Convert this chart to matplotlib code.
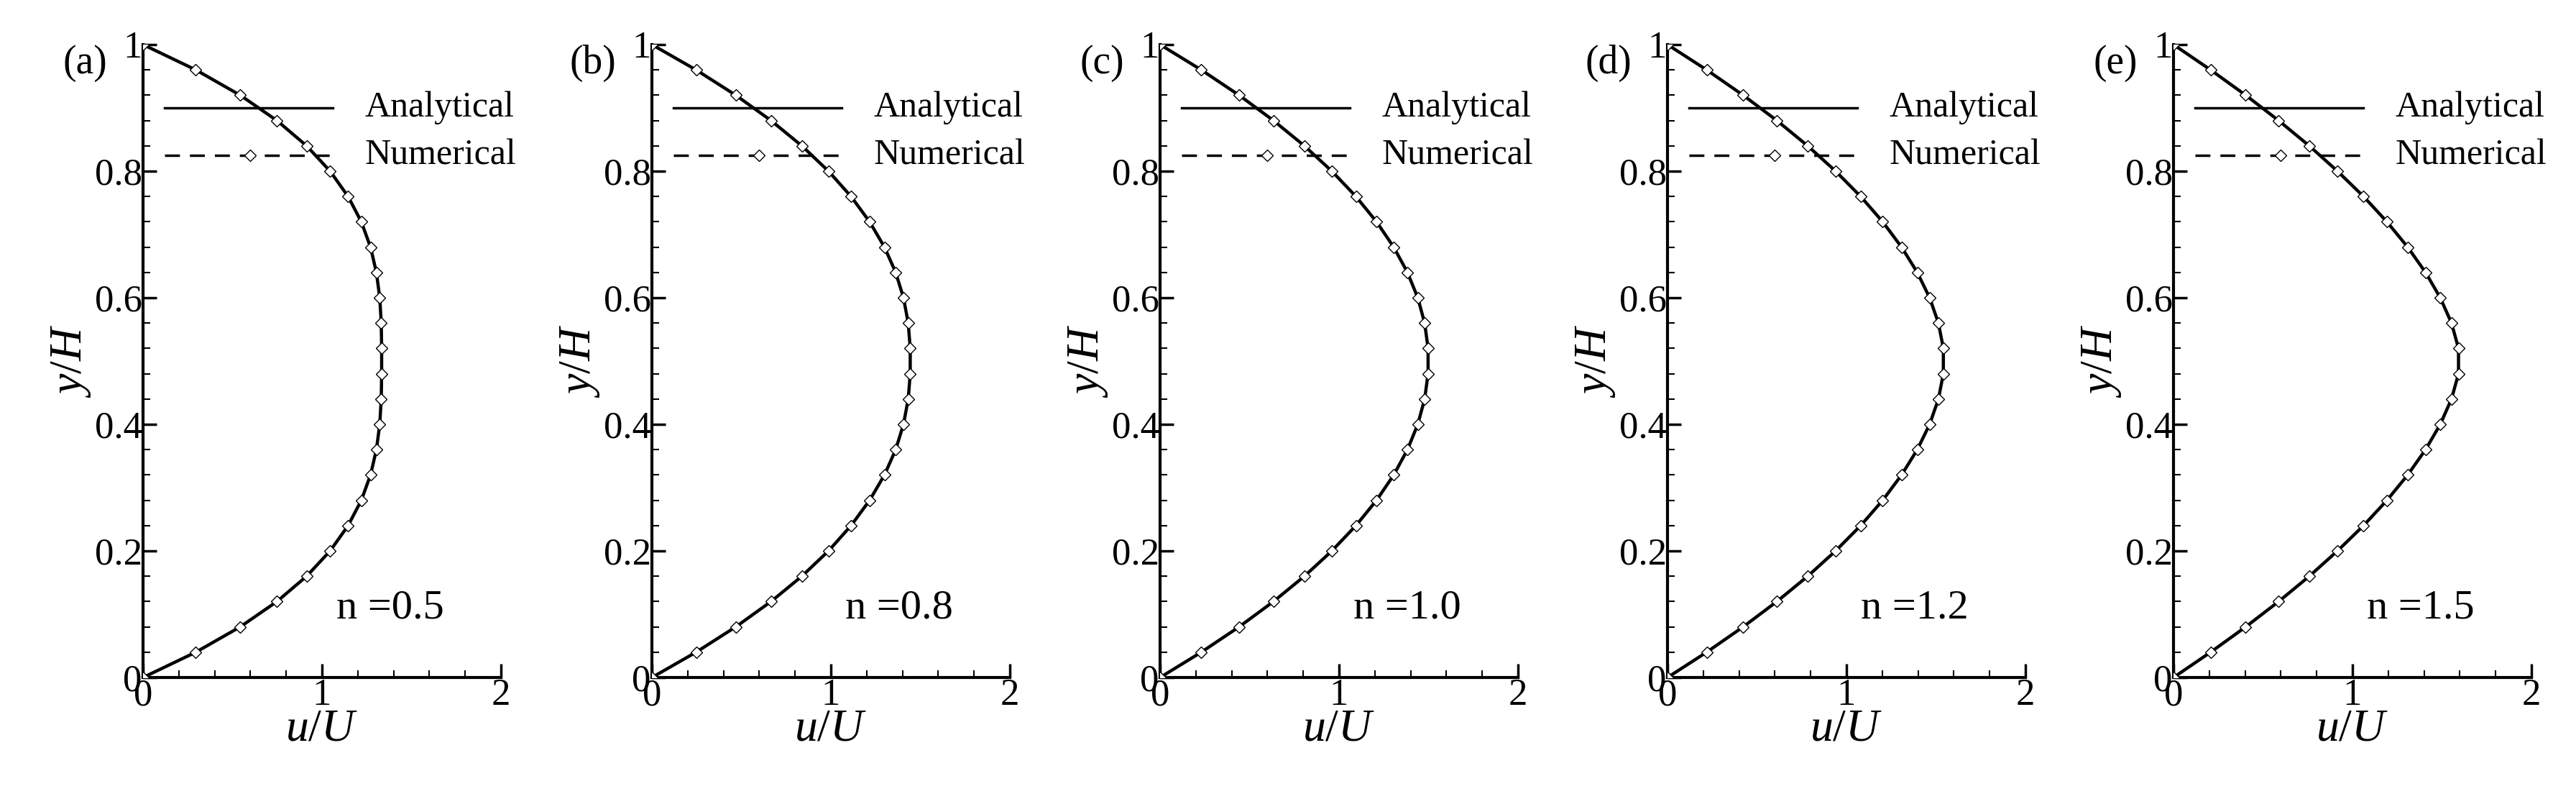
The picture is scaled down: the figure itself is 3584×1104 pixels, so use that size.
import numpy as np
import matplotlib.pyplot as plt
from matplotlib.ticker import MultipleLocator

plt.rcParams['font.family'] = 'serif'
plt.rcParams['font.serif'] = ['Liberation Serif', 'DejaVu Serif']
plt.rcParams['mathtext.fontset'] = 'custom'
plt.rcParams['mathtext.rm'] = 'Liberation Serif'
plt.rcParams['mathtext.it'] = 'Liberation Serif:italic'

# y/H positions of the sampled points (0 .. 1, step 0.04)
y_pts = np.round(np.arange(26) * 0.04, 2)

# half-profiles, wall (y=0) to centre (y=0.48)
half_05 = [0, .2951, .5431, .7480, .9141, 1.0453, 1.1458, 1.2197, 1.2711, 1.3040, 1.3227, 1.3310, 1.3333]
half_08 = [0, .2470, .4687, .6655, .8379, .9868, 1.1128, 1.2166, 1.2994, 1.3621, 1.4057, 1.4322, 1.4434]
half_10 = [0, .2304, .4416, .6336, .8064, .9600, 1.0944, 1.2096, 1.3056, 1.3824, 1.4400, 1.4784, 1.4976]
half_12 = [0, .2190, .4227, .6111, .7834, .9393, 1.0795, 1.2024, 1.3079, 1.3957, 1.4647, 1.5138, 1.5413]
half_15 = [0, .2075, .4035, .5874, .7587, .9162, 1.0619, 1.1926, 1.3085, 1.4083, 1.4906, 1.5533, 1.5925]

panels = ["(a)", "(b)", "(c)", "(d)", "(e)"]
n_labels = ["n =0.5", "n =0.8", "n =1.0", "n =1.2", "n =1.5"]
halves = [half_05, half_08, half_10, half_12, half_15]

fig = plt.figure(figsize=(35.84, 11.04), dpi=100)
lefts = [199, 907, 1614, 2320, 3024]
W, H = 3584, 1104

for i in range(5):
    ax = fig.add_axes([lefts[i] / W, (H - 942) / H, 498 / W, 880 / H])
    h = halves[i]
    u = np.array(h + h[::-1])
    ax.plot(u, y_pts, '-', color='black', lw=3.2, zorder=2)
    ax.plot(u, y_pts, '--', color='black', lw=2.2, dashes=(6, 4), zorder=3,
            marker='D', ms=8, mfc='white', mec='black', mew=1.0)

    ax.set_xlim(0, 2)
    ax.set_ylim(0, 1)
    ax.spines['top'].set_visible(False)
    ax.spines['right'].set_visible(False)
    for s in ['left', 'bottom']:
        ax.spines[s].set_linewidth(3)
    ax.xaxis.set_minor_locator(MultipleLocator(0.2))
    ax.yaxis.set_minor_locator(MultipleLocator(0.04))
    ax.set_xticks([0, 1, 2])
    ax.set_yticks([0, 0.2, 0.4, 0.6, 0.8, 1])
    ax.set_yticklabels(["0", "0.2", "0.4", "0.6", "0.8", "1"])
    ax.tick_params(which='major', direction='in', length=14, width=2.5,
                   labelsize=38, pad=1)
    ax.tick_params(which='minor', direction='in', length=7, width=1.5)
    ax.set_xlabel(r'$u/U$', fontsize=46, labelpad=-4)
    ax.set_ylabel(r'$y/H$', fontsize=46, labelpad=2)

    ax.text(-0.1, 1.0, panels[i], fontsize=40, ha='right', va='top',
            transform=ax.transAxes)
    ax.text(1.38, 0.08, n_labels[i], fontsize=42, ha='center', va='bottom')

    # legend drawn by hand
    ax.plot([0.12, 1.06], [0.9, 0.9], '-', color='black', lw=2.5, clip_on=False)
    ax.plot([0.12, 1.06], [0.825, 0.825], '--', color='black', lw=2.5,
            dashes=(6, 4), clip_on=False)
    ax.plot([0.6], [0.825], 'D', ms=8, mfc='white', mec='black', clip_on=False)
    ax.text(1.24, 0.9, "Analytical", fontsize=36, va='center', clip_on=False)
    ax.text(1.24, 0.825, "Numerical", fontsize=36, va='center', clip_on=False)

fig.savefig("out.png", dpi=100)
